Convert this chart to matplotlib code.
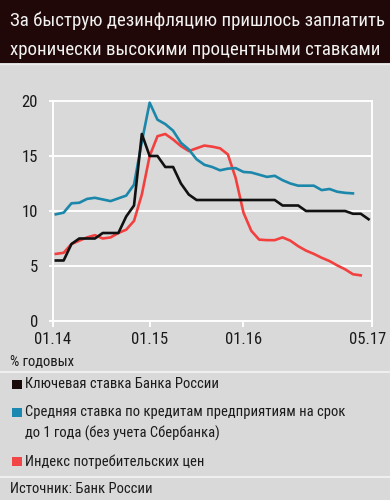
import os
import numpy as np
import matplotlib
matplotlib.use("Agg")
import matplotlib.pyplot as plt
from matplotlib.patches import Rectangle
from matplotlib.lines import Line2D
from matplotlib import font_manager as fm
from matplotlib.transforms import ScaledTranslation

# ---------------- data ----------------
title_lines = ["За быструю дезинфляцию пришлось заплатить",
               "хронически высокими процентными ставками"]
tick_labels = ["01.14", "01.15", "01.16", "05.17"]
y_ticks = [0, 5, 10, 15, 20]

key_rate = [5.5, 5.5, 7.0, 7.5, 7.5, 7.5, 8.0, 8.0, 8.0, 9.5, 10.5, 17.0, 15.0, 15.0,
            14.0, 14.0, 12.5, 11.5, 11.0, 11.0, 11.0, 11.0, 11.0, 11.0, 11.0, 11.0,
            11.0, 11.0, 11.0, 10.5, 10.5, 10.5, 10.0, 10.0, 10.0, 10.0, 10.0, 10.0,
            9.75, 9.75, 9.25]
loan_rate = [9.7, 9.85, 10.7, 10.75, 11.1, 11.2, 11.05, 10.9, 11.15, 11.4, 12.4, 16.3,
             19.85, 18.3, 17.9, 17.3, 16.2, 15.6, 14.7, 14.2, 14.0, 13.7, 13.85, 13.9,
             13.55, 13.5, 13.3, 13.1, 13.2, 12.8, 12.5, 12.3, 12.3, 12.3, 11.9, 12.0,
             11.75, 11.65, 11.6]
cpi = [6.1, 6.2, 7.0, 7.3, 7.6, 7.8, 7.5, 7.6, 8.0, 8.3, 9.1, 11.5, 15.0, 16.8, 17.0,
       16.5, 15.9, 15.45, 15.7, 15.95, 15.85, 15.7, 15.15, 13.0, 9.85, 8.2, 7.4, 7.35,
       7.35, 7.6, 7.3, 6.8, 6.4, 6.1, 5.75, 5.45, 5.05, 4.7, 4.25, 4.15]

legend_labels = ["Ключевая ставка Банка России",
                 "Средняя ставка по кредитам предприятиям на срок\nдо 1 года (без учета Сбербанка)",
                 "Индекс потребительских цен"]
unit_label = "% годовых"
source_label = "Источник: Банк России"

# ---------------- font choice (prefer a condensed face) ----------------
def pick_font():
    prefs = ["LiberationSansNarrow-Regular", "RobotoCondensed-Regular",
             "NotoSans-ExtraCondensed.", "NotoSans-Condensed.", "NotoSans-CondensedRegular",
             "DejaVuSansCondensed.", "OpenSans_Condensed-Regular", "OpenSansCondensed-Regular"]
    files = [f.fname for f in fm.fontManager.ttflist]
    for p in prefs:
        for f in files:
            if p in os.path.basename(f):
                return fm.FontProperties(fname=f)
    for f in fm.fontManager.ttflist:
        n = os.path.basename(f.fname)
        if ("Condensed" in n or "Narrow" in n) and "Bold" not in n and "Italic" not in n \
                and "Light" not in n and "Semi" not in n \
                and "Black" not in n and "Medium" not in n and "Thin" not in n:
            return fm.FontProperties(fname=f.fname)
    return fm.FontProperties(family="Roboto")

FP = pick_font()

# ---------------- style ----------------
W, H = 390, 500
BG = "#d9d9d9"
BAND = "#200808"
C_BLACK = "#111111"
C_BLUE = "#1b87aa"
C_RED = "#f2403f"
TXT = "#1a1a1a"

def fx(px):
    return px / W

def fy(py):
    return 1 - py / H

fig = plt.figure(figsize=(W / 100, H / 100), dpi=100)
fig.patch.set_facecolor(BG)
renderer = fig.canvas.get_renderer()

def fit_size(s, target_px):
    t = fig.text(0, 0, s, fontproperties=FP, fontsize=10)
    w = t.get_window_extent(renderer).width
    t.remove()
    return 10 * target_px / w

title_fs = fit_size(title_lines[0], 372)
legend_fs = fit_size(legend_labels[1].split("\n")[0], 317)
tick_fs = fit_size("01.14", 37)

def put(x, y, s, size, color=TXT, **kw):
    p = FP.copy()
    p.set_size(size)
    return fig.text(fx(x), fy(y), s, fontproperties=p, color=color, **kw)

# title band
fig.add_artist(Rectangle((0, fy(63)), 1, 63 / H, transform=fig.transFigure,
                         facecolor=BAND, edgecolor="none", zorder=0))
fig.add_artist(Line2D([0, 1], [fy(64), fy(64)], transform=fig.transFigure,
                      color="#ececec", lw=1.0))
put(10, 20.5, title_lines[0], title_fs, color="#f2f2f2", va="center", ha="left")
put(10, 50, title_lines[1], title_fs, color="#f2f2f2", va="center", ha="left")

# axes
x0, x1 = 52.7, 371.7
ytop, ybot = 101, 321
ax = fig.add_axes([fx(x0), fy(ybot), (x1 - x0) / W, (ybot - ytop) / H])
ax.set_facecolor(BG)
ax.set_ylim(0, 20)
xlim = (-0.4, 40.4)
ax.set_xlim(*xlim)

for s in ["left", "right", "bottom", "top"]:
    ax.spines[s].set_color("white")
    ax.spines[s].set_linewidth(1.4)

for v in y_ticks[1:-1]:
    ax.axhline(v, color="white", lw=1.4, zorder=1)

ax.set_yticks(y_ticks)
ax.set_yticklabels([str(v) for v in y_ticks])
ax.set_xticks([xlim[0], 12, 24, xlim[1]])
ax.set_xticklabels(tick_labels)
ax.tick_params(axis="y", direction="out", length=4.5 / 1.389, width=1.4,
               color="white", labelcolor=TXT, pad=7.4)
ax.tick_params(axis="x", direction="out", length=6 / 1.389, width=1.4,
               color="white", labelcolor=TXT, pad=3.5)
for lab in ax.get_xticklabels() + ax.get_yticklabels():
    lab.set_fontproperties(FP)
    lab.set_fontsize(tick_fs)
last = ax.get_xticklabels()[-1]
last.set_transform(last.get_transform() + ScaledTranslation(-4 / 100, 0, fig.dpi_scale_trans))

lw = 1.9
ax.plot(np.arange(len(cpi)), cpi, color=C_RED, lw=lw, zorder=3, solid_joinstyle="round")
ax.plot(np.arange(len(loan_rate)), loan_rate, color=C_BLUE, lw=lw, zorder=4, solid_joinstyle="round")
ax.plot(np.arange(len(key_rate)), key_rate, color=C_BLACK, lw=lw, zorder=5, solid_joinstyle="round")

# unit label and separators
put(10, 361, unit_label, legend_fs, va="center", ha="left")
for py in (372, 477):
    fig.add_artist(Line2D([0, 1], [fy(py), fy(py)], transform=fig.transFigure,
                          color="#efefef", lw=1.5))

# legend
leg_colors = ["#1a0a0a", "#1a88b0", "#f24545"]
leg_y = [384.5, 412, 461.5]
for col, lab, py in zip(leg_colors, legend_labels, leg_y):
    fig.add_artist(Rectangle((fx(12.5), fy(py + 4.5)), 9 / W, 9 / H,
                             transform=fig.transFigure, facecolor=col,
                             edgecolor="none"))
    if "\n" in lab:
        l1, l2 = lab.split("\n")
        put(25, py, l1, legend_fs, va="center", ha="left")
        put(25, py + 21.5, l2, legend_fs, va="center", ha="left")
    else:
        put(25, py, lab, legend_fs, va="center", ha="left")

put(10, 489, source_label, legend_fs, va="center", ha="left")

fig.savefig("out.png", dpi=100, facecolor=BG)
